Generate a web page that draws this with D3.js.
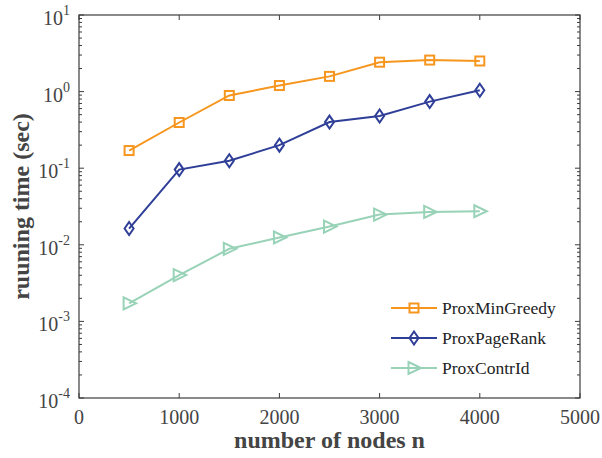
<!DOCTYPE html>
<html>
<head>
<meta charset="utf-8">
<script src="https://cdn.jsdelivr.net/npm/d3@7"></script>
<style>
  body { margin: 0; background: #fff; }
  text { font-family: "Liberation Serif", "Times New Roman", serif; }
</style>
</head>
<body>
<div id="chart"></div>
<script>
// data
const nodes = [500, 1000, 1500, 2000, 2500, 3000, 3500, 4000];
const proxMinGreedy = [0.17, 0.395, 0.89, 1.2, 1.58, 2.42, 2.58, 2.51];
const proxPageRank = [0.0163, 0.096, 0.125, 0.2, 0.4, 0.48, 0.74, 1.04];
const proxContrId = [0.00172, 0.00402, 0.00887, 0.01245, 0.0173, 0.0248, 0.0269, 0.0274];
const seriesNames = ["ProxMinGreedy", "ProxPageRank", "ProxContrId"];
const xTicks = [0, 1000, 2000, 3000, 4000, 5000];
const yExponents = [1, 0, -1, -2, -3, -4];

const series = [
  { name: seriesNames[0], values: proxMinGreedy, color: "#f7961f", marker: "square" },
  { name: seriesNames[1], values: proxPageRank, color: "#2f3f98", marker: "diamond" },
  { name: seriesNames[2], values: proxContrId, color: "#98d2b7", marker: "triangle" },
];

const width = 602, height = 458;
const margin = { top: 15, right: 22, bottom: 60, left: 79 };
const innerW = width - margin.left - margin.right;
const innerH = height - margin.top - margin.bottom;
const axisColor = "#3c3c3c";

const svg = d3.select("#chart").append("svg")
  .attr("width", width)
  .attr("height", height);

const chart = svg.append("g")
  .attr("transform", `translate(${margin.left},${margin.top})`);

const xScale = d3.scaleLinear().domain([0, 5000]).range([0, innerW]);
const yScale = d3.scaleLog().domain([1e-4, 10]).range([innerH, 0]);

// minor ticks for log axis
const minorTicks = [];
for (let e = -4; e < 1; e++) {
  for (let m = 2; m <= 9; m++) minorTicks.push(m * Math.pow(10, e));
}

// box
chart.append("rect")
  .attr("width", innerW)
  .attr("height", innerH)
  .attr("fill", "none")
  .attr("stroke", axisColor)
  .attr("stroke-width", 1.2);

// x ticks (bottom and top, pointing inward)
const xt = chart.append("g").attr("class", "x-ticks");
xTicks.forEach((t) => {
  xt.append("line")
    .attr("x1", xScale(t)).attr("x2", xScale(t))
    .attr("y1", innerH).attr("y2", innerH - 5)
    .attr("stroke", axisColor);
  xt.append("line")
    .attr("x1", xScale(t)).attr("x2", xScale(t))
    .attr("y1", 0).attr("y2", 5)
    .attr("stroke", axisColor);
  xt.append("text")
    .attr("x", xScale(t))
    .attr("y", innerH + 26)
    .attr("text-anchor", "middle")
    .attr("font-size", 20)
    .attr("fill", "#444")
    .text(t);
});

// y ticks (left and right)
const yt = chart.append("g").attr("class", "y-ticks");
yExponents.forEach((e) => {
  const y = yScale(Math.pow(10, e));
  yt.append("line").attr("x1", 0).attr("x2", 5).attr("y1", y).attr("y2", y).attr("stroke", axisColor);
  yt.append("line").attr("x1", innerW).attr("x2", innerW - 5).attr("y1", y).attr("y2", y).attr("stroke", axisColor);
  const label = yt.append("text")
    .attr("x", -9)
    .attr("y", y + 10)
    .attr("text-anchor", "end")
    .attr("font-size", 20)
    .attr("fill", "#444");
  label.append("tspan").text("10");
  label.append("tspan")
    .attr("font-size", 14)
    .attr("dy", -10)
    .text(e < 0 ? "-" + Math.abs(e) : e);
});
minorTicks.forEach((v) => {
  const y = yScale(v);
  yt.append("line").attr("x1", 0).attr("x2", 3).attr("y1", y).attr("y2", y).attr("stroke", axisColor);
  yt.append("line").attr("x1", innerW).attr("x2", innerW - 3).attr("y1", y).attr("y2", y).attr("stroke", axisColor);
});

// axis titles
svg.append("text")
  .attr("x", margin.left + innerW / 2)
  .attr("y", 448)
  .attr("text-anchor", "middle")
  .attr("font-size", 24)
  .attr("font-weight", "bold")
  .attr("fill", "#444")
  .text("number of nodes n");

svg.append("text")
  .attr("transform", `translate(29,${margin.top + innerH / 2}) rotate(-90)`)
  .attr("text-anchor", "middle")
  .attr("font-size", 24)
  .attr("font-weight", "bold")
  .attr("fill", "#444")
  .text("ruuning time (sec)");

// marker drawing
function drawMarker(g, type, color) {
  if (type === "square") {
    g.append("rect")
      .attr("x", -4.5).attr("y", -4.5)
      .attr("width", 9).attr("height", 9)
      .attr("fill", "none").attr("stroke", color).attr("stroke-width", 2);
  } else if (type === "diamond") {
    g.append("path")
      .attr("d", "M0,-6.5 L4.5,0 L0,6.5 L-4.5,0 Z")
      .attr("fill", "none").attr("stroke", color).attr("stroke-width", 2);
  } else {
    g.append("path")
      .attr("d", "M-5.5,-6 L7,0 L-5.5,6 Z")
      .attr("fill", "none").attr("stroke", color).attr("stroke-width", 2);
  }
}

const line = d3.line()
  .x((d) => xScale(d[0]))
  .y((d) => yScale(d[1]));

series.forEach((s) => {
  const pts = nodes.map((n, i) => [n, s.values[i]]);
  chart.append("path")
    .datum(pts)
    .attr("fill", "none")
    .attr("stroke", s.color)
    .attr("stroke-width", 2)
    .attr("d", line);
  pts.forEach((p) => {
    const g = chart.append("g")
      .attr("transform", `translate(${xScale(p[0])},${yScale(p[1])})`);
    drawMarker(g, s.marker, s.color);
  });
});

// legend
const legend = svg.append("g").attr("transform", "translate(391,308)");
series.forEach((s, i) => {
  const row = legend.append("g").attr("transform", `translate(0,${i * 30})`);
  row.append("line")
    .attr("x1", 0).attr("x2", 46)
    .attr("stroke", s.color).attr("stroke-width", 2);
  const m = row.append("g").attr("transform", "translate(23,0)");
  drawMarker(m, s.marker, s.color);
  row.append("text")
    .attr("x", 51)
    .attr("y", 6)
    .attr("font-size", 17.5)
    .attr("fill", "#222")
    .text(s.name);
});
</script>
</body>
</html>
